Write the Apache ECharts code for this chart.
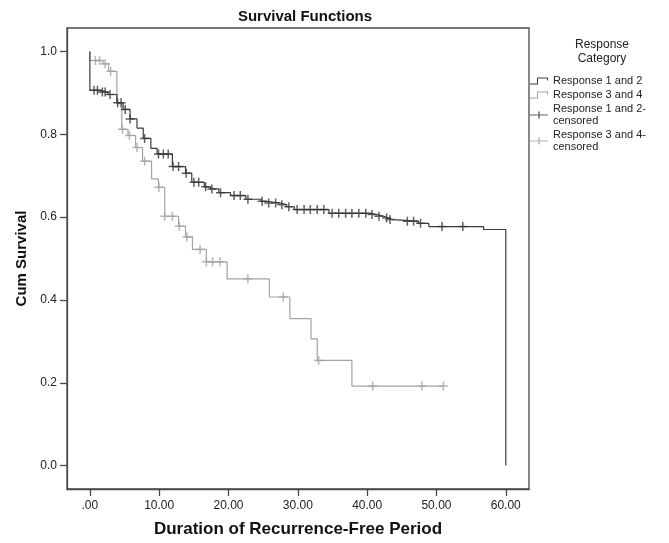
<!DOCTYPE html>
<html>
<head>
<meta charset="utf-8">
<script src="https://cdn.jsdelivr.net/npm/echarts@6/dist/echarts.min.js"></script>
<style>html,body{margin:0;padding:0;background:#fff;}#c{width:669px;height:543px;}</style>
</head>
<body>
<div id="c"></div>
<script>
// ---- data ----
const seriesNames = ['Response 1 and 2', 'Response 3 and 4', 'Response 1 and 2-\ncensored', 'Response 3 and 4-\ncensored'];
const xTickValues = [0, 10, 20, 30, 40, 50, 60];
const xTickLabels = ['.00', '10.00', '20.00', '30.00', '40.00', '50.00', '60.00'];
const yTickValues = [0, 0.2, 0.4, 0.6, 0.8, 1.0];
const yTickLabels = ['0.0', '0.2', '0.4', '0.6', '0.8', '1.0'];

// Response 1 and 2: event times and survival after each event
const r12Times = [0, 0, 1.5, 2.6, 3.9, 4.8, 5.8, 6.8, 7.7, 8.8, 9.7, 11.9, 13.8, 14.7, 16.5, 17.4, 18.6, 20.3, 22.5, 24.7, 25.5, 27.4, 28.4, 29.5, 34.5, 40.5, 41.4, 42.4, 43.0, 43.6, 47.4, 48.9, 56.8, 60.0];
const r12Surv  = [1.0, 0.906, 0.902, 0.896, 0.876, 0.860, 0.837, 0.815, 0.790, 0.766, 0.752, 0.722, 0.706, 0.684, 0.673, 0.668, 0.659, 0.652, 0.643, 0.638, 0.634, 0.630, 0.625, 0.618, 0.609, 0.606, 0.602, 0.598, 0.594, 0.590, 0.585, 0.577, 0.570, 0.0];
// Response 1 and 2 censored
const r12CensTimes = [0.6, 1.1, 1.8, 2.2, 2.9, 4.0, 4.5, 5.1, 5.8, 7.9, 9.9, 10.6, 11.3, 12.0, 12.8, 13.9, 15.0, 15.7, 16.7, 17.6, 18.85, 20.8, 21.7, 22.8, 24.85, 25.8, 26.8, 27.7, 28.7, 29.9, 30.9, 31.8, 32.8, 33.75, 34.95, 35.9, 36.9, 37.8, 38.8, 39.8, 40.7, 41.7, 42.8, 43.3, 45.8, 46.7, 47.7, 50.8, 53.8];
const r12CensSurv  = [0.906, 0.906, 0.902, 0.902, 0.896, 0.876, 0.876, 0.860, 0.837, 0.790, 0.752, 0.752, 0.752, 0.722, 0.722, 0.706, 0.684, 0.684, 0.673, 0.668, 0.659, 0.652, 0.652, 0.643, 0.638, 0.634, 0.634, 0.630, 0.625, 0.618, 0.618, 0.618, 0.618, 0.618, 0.609, 0.609, 0.609, 0.609, 0.609, 0.609, 0.606, 0.602, 0.598, 0.594, 0.590, 0.590, 0.585, 0.577, 0.577];

// Response 3 and 4
const r34Times = [0, 0, 1.9, 2.7, 3.9, 4.6, 5.5, 6.6, 7.6, 8.9, 9.9, 10.8, 12.8, 13.8, 14.8, 16.8, 19.8, 25.9, 28.85, 31.9, 32.8, 37.8, 51.0];
const r34Surv  = [1.0, 0.978, 0.970, 0.952, 0.874, 0.812, 0.797, 0.768, 0.735, 0.692, 0.672, 0.602, 0.578, 0.552, 0.522, 0.492, 0.451, 0.407, 0.355, 0.306, 0.254, 0.192, 0.192];
const r34CensTimes = [0.8, 1.4, 2.2, 3.0, 4.7, 5.7, 6.8, 7.9, 9.95, 10.8, 11.9, 12.9, 14.0, 15.9, 16.8, 17.7, 18.75, 22.8, 27.9, 33.0, 40.8, 47.9, 51.0];
const r34CensSurv  = [0.978, 0.978, 0.970, 0.952, 0.812, 0.797, 0.768, 0.735, 0.672, 0.602, 0.602, 0.578, 0.552, 0.522, 0.492, 0.492, 0.492, 0.451, 0.407, 0.254, 0.192, 0.192, 0.192];

// ---- chart ----
const DARK = '#3a3a3a';
const LIGHT = '#a3a3a3';
const FONT = 'Liberation Sans, Arial, sans-serif';
const crossPath = 'path://M3.75,0 H5.25 V3.75 H9 V5.25 H5.25 V9 H3.75 V5.25 H0 V3.75 H3.75 Z';
const stepIcon = 'path://M0,6 H7 V0 H18 V3 H17 V1 H8 V7 H0 Z';
const censIcon = 'path://M0,3 H8.3 V0 H9.7 V3 H18 V4 H9.7 V7 H8.3 V4 H0 Z';
const zip = (a, b) => a.map((v, i) => [v, b[i]]);

const chart = echarts.init(document.getElementById('c'), null, {renderer: 'canvas'});
chart.setOption({
  animation: false,
  backgroundColor: '#ffffff',
  title: [
    {text: 'Survival Functions', left: 300, top: 4, textAlign: 'center',
     textStyle: {fontFamily: FONT, fontSize: 15, fontWeight: 'bold', color: '#111'}},
    {text: 'Response\nCategory', left: 597, top: 33, textAlign: 'center',
     textStyle: {fontFamily: FONT, fontSize: 12, fontWeight: 'normal', color: '#222', lineHeight: 14}}
  ],
  legend: {
    orient: 'vertical', left: 530, top: 75, padding: 0,
    itemWidth: 18, itemHeight: 7, itemGap: 2,
    symbolKeepAspect: false,
    itemStyle: {borderWidth: 0},
    textStyle: {fontFamily: FONT, fontSize: 11, color: '#222', lineHeight: 12},
    data: [
      {name: seriesNames[0], icon: stepIcon},
      {name: seriesNames[1], icon: stepIcon},
      {name: seriesNames[2], icon: censIcon},
      {name: seriesNames[3], icon: censIcon}
    ],
    selectedMode: false
  },
  grid: {left: 67, right: 140, top: 28, bottom: 54, show: true, borderColor: '#4a4a4a', borderWidth: 1.3,
    backgroundColor: 'transparent', containLabel: false, outerBoundsMode: 'none'},
  xAxis: {
    type: 'value', min: -3.3, max: 63.35,
    name: 'Duration of Recurrence-Free Period', nameLocation: 'middle', nameGap: 32,
    nameTextStyle: {fontFamily: FONT, fontSize: 17, fontWeight: 'bold', color: '#111'},
    axisLine: {show: true, onZero: false, lineStyle: {color: '#4a4a4a', width: 1.3}},
    axisTick: {show: true, length: 7, lineStyle: {color: '#4a4a4a', width: 1.3}, customValues: xTickValues},
    axisLabel: {customValues: xTickValues, margin: 11, fontFamily: FONT, fontSize: 12, color: '#222',
      formatter: v => xTickLabels[xTickValues.indexOf(Math.round(v))] || ''},
    splitLine: {show: false}
  },
  yAxis: {
    type: 'value', min: -0.0565, max: 1.0565,
    name: 'Cum Survival', nameLocation: 'middle', nameGap: 38,
    nameTextStyle: {fontFamily: FONT, fontSize: 15, fontWeight: 'bold', color: '#111'},
    axisLine: {show: true, onZero: false, lineStyle: {color: '#4a4a4a', width: 1.3}},
    axisTick: {show: true, length: 7, lineStyle: {color: '#4a4a4a', width: 1.3}, customValues: yTickValues},
    axisLabel: {customValues: yTickValues, margin: 10, fontFamily: FONT, fontSize: 12, color: '#222',
      formatter: v => yTickLabels[yTickValues.findIndex(t => Math.abs(t - v) < 1e-6)] || ''},
    splitLine: {show: false}
  },
  series: [
    {name: seriesNames[0], type: 'line', step: 'end', showSymbol: false, symbol: 'none',
     data: zip(r12Times, r12Surv), color: DARK, lineStyle: {color: DARK, width: 1.2}, z: 3},
    {name: seriesNames[1], type: 'line', step: 'end', showSymbol: false, symbol: 'none',
     data: zip(r34Times, r34Surv), color: LIGHT, lineStyle: {color: LIGHT, width: 1.2}, z: 2},
    {name: seriesNames[2], type: 'scatter', symbol: crossPath, symbolSize: 9,
     data: zip(r12CensTimes, r12CensSurv), color: DARK, itemStyle: {color: DARK}, z: 5},
    {name: seriesNames[3], type: 'scatter', symbol: crossPath, symbolSize: 9,
     data: zip(r34CensTimes, r34CensSurv), color: LIGHT, itemStyle: {color: LIGHT}, z: 4}
  ]
});
</script>
</body>
</html>
